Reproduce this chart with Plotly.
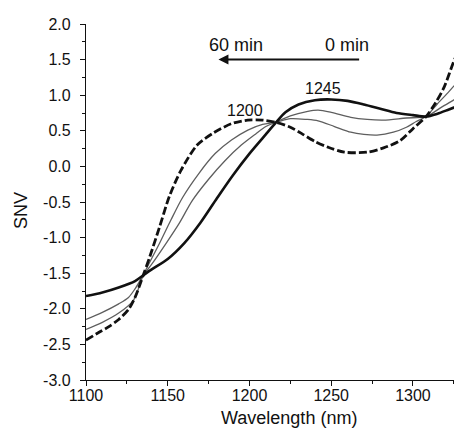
import plotly.graph_objects as go

# Wavelength (nm) and SNV values
wl_0 = [1100, 1110, 1120, 1130, 1135, 1140, 1150, 1160, 1170, 1180, 1190, 1200, 1210, 1216,
        1222, 1230, 1240, 1250, 1260, 1270, 1280, 1290, 1300, 1308, 1315, 1322, 1330]
snv_0 = [-1.82, -1.77, -1.70, -1.61, -1.53, -1.45, -1.30, -1.08, -0.79, -0.45, -0.12, 0.18, 0.45, 0.61,
         0.76, 0.87, 0.93, 0.94, 0.92, 0.87, 0.81, 0.75, 0.72, 0.70, 0.74, 0.80, 0.87]

wl_a = [1100, 1110, 1120, 1126, 1130, 1135, 1140, 1149, 1157, 1165, 1175, 1185, 1195, 1204, 1210,
        1216, 1225, 1235, 1242, 1250, 1262, 1272, 1282, 1296, 1308, 1318, 1327, 1330]
snv_a = [-2.15, -2.05, -1.93, -1.84, -1.72, -1.53, -1.38, -1.08, -0.80, -0.48, -0.18, 0.08, 0.30, 0.46, 0.56,
         0.62, 0.71, 0.77, 0.79, 0.76, 0.69, 0.66, 0.65, 0.68, 0.70, 0.84, 0.96, 1.00]

wl_b = [1100, 1110, 1120, 1129, 1135, 1145, 1152, 1159, 1169, 1179, 1189, 1199, 1208, 1216, 1225,
        1235, 1242, 1252, 1262, 1270, 1278, 1288, 1296, 1302, 1308, 1315, 1322, 1327, 1330]
snv_b = [-2.29, -2.19, -2.06, -1.88, -1.53, -1.08, -0.75, -0.44, -0.10, 0.18, 0.37, 0.51, 0.59, 0.62, 0.67,
         0.66, 0.64, 0.56, 0.48, 0.45, 0.44, 0.48, 0.55, 0.63, 0.70, 0.88, 1.05, 1.18, 1.25]

wl_60 = [1100, 1108, 1114, 1120, 1126, 1130, 1135, 1139, 1145, 1151, 1158, 1168, 1178, 1189, 1199,
         1208, 1216, 1225, 1232, 1240, 1248, 1258, 1272, 1282, 1292, 1300, 1308, 1314, 1319, 1326, 1330]
snv_60 = [-2.44, -2.33, -2.25, -2.15, -2.01, -1.84, -1.53, -1.27, -0.85, -0.42, -0.06, 0.30, 0.47, 0.60, 0.65,
          0.65, 0.62, 0.55, 0.46, 0.35, 0.27, 0.20, 0.20, 0.26, 0.36, 0.53, 0.70, 0.90, 1.11, 1.53, 1.68]

y_ticks = [-3.0, -2.5, -2.0, -1.5, -1.0, -0.5, 0.0, 0.5, 1.0, 1.5, 2.0]
y_tick_text = ["-3.0", "-2.5", "-2.0", "-1.5", "-1.0", "-0.5", "0.0", "0.5", "1.0", "1.5", "2.0"]

fig = go.Figure()
fig.add_trace(go.Scatter(x=wl_a, y=snv_a, mode="lines",
                         line=dict(color="#5e5e5e", width=1.3, shape="spline", smoothing=0.8)))
fig.add_trace(go.Scatter(x=wl_b, y=snv_b, mode="lines",
                         line=dict(color="#5e5e5e", width=1.3, shape="spline", smoothing=0.8)))
fig.add_trace(go.Scatter(x=wl_0, y=snv_0, mode="lines",
                         line=dict(color="#111111", width=2.6, shape="spline", smoothing=0.8)))
fig.add_trace(go.Scatter(x=wl_60, y=snv_60, mode="lines",
                         line=dict(color="#111111", width=2.8, dash="8px,3px", shape="spline", smoothing=0.8)))

# page has an 8px body margin: figure is placed at (8, 8) in the window;
# the figure is a little taller than the window (overflow hidden)
OFF = 8
W, H = 462 - OFF, 460
SX0, SX1, SY0, SY1 = 86, 462, 24, 380  # plot area in window pixels
L, R, T = SX0 - OFF, 0, SY0 - OFF
B = H - (SY1 - OFF)

def px(x):
    return (x - SX0) / (SX1 - SX0)

def py(y):
    return (SY1 - y) / (SY1 - SY0)

font = "Liberation Sans, Arial, sans-serif"
annotations = [
    dict(x=1181, y=1.50, ax=1268, ay=1.50, xref="x", yref="y", axref="x", ayref="y",
         text="", showarrow=True, arrowhead=2, arrowsize=1, arrowwidth=2, arrowcolor="#111"),
    dict(x=1191.5, y=1.70, xref="x", yref="y", text="60 min", showarrow=False,
         xanchor="center", yanchor="middle",
         font=dict(size=18, color="#111", family=font)),
    dict(x=1259.5, y=1.70, xref="x", yref="y", text="0 min", showarrow=False,
         xanchor="center", yanchor="middle",
         font=dict(size=18, color="#111", family=font)),
    dict(x=1197, y=0.79, xref="x", yref="y", text="1200", showarrow=False,
         xanchor="center", yanchor="middle",
         font=dict(size=16, color="#111", family=font)),
    dict(x=1245, y=1.10, xref="x", yref="y", text="1245", showarrow=False,
         xanchor="center", yanchor="middle",
         font=dict(size=16, color="#111", family=font)),
    dict(x=px(289), y=py(418), xref="paper", yref="paper", text="Wavelength (nm)", showarrow=False,
         xanchor="center", yanchor="middle",
         font=dict(size=18, color="#111", family=font)),
    dict(x=px(21), y=py(211), xref="paper", yref="paper", text="SNV", showarrow=False, textangle=-90,
         xanchor="center", yanchor="middle",
         font=dict(size=18, color="#111", family=font)),
]

fig.update_layout(
    width=W, height=H,
    margin=dict(l=L, r=R, t=T, b=B, pad=0, autoexpand=False),
    paper_bgcolor="white", plot_bgcolor="white",
    showlegend=False,
    annotations=annotations,
    xaxis=dict(range=[1100, 1330], tick0=1100, dtick=50, showgrid=False, zeroline=False,
               showline=True, linecolor="#111", linewidth=1.3,
               ticks="outside", ticklen=5, tickwidth=1.3, tickcolor="#111",
               ticklabelstandoff=-4,
               minor=dict(dtick=25, tick0=1100, ticks="outside", ticklen=3, tickcolor="#111", tickwidth=1),
               tickfont=dict(size=16, color="#111", family=font)),
    yaxis=dict(range=[-3, 2], tickmode="array", tickvals=y_ticks, ticktext=y_tick_text,
               showgrid=False, zeroline=False,
               showline=True, linecolor="#111", linewidth=1.3,
               ticks="outside", ticklen=5, tickwidth=1.3, tickcolor="#111",
               ticklabelstandoff=6,
               minor=dict(dtick=0.25, tick0=-3, ticks="outside", ticklen=3, tickcolor="#111", tickwidth=1),
               tickfont=dict(size=16, color="#111", family=font)),
)

fig.write_html("out.html",
               post_script="document.documentElement.style.overflow='hidden';"
                           "document.body.style.overflow='hidden';")
